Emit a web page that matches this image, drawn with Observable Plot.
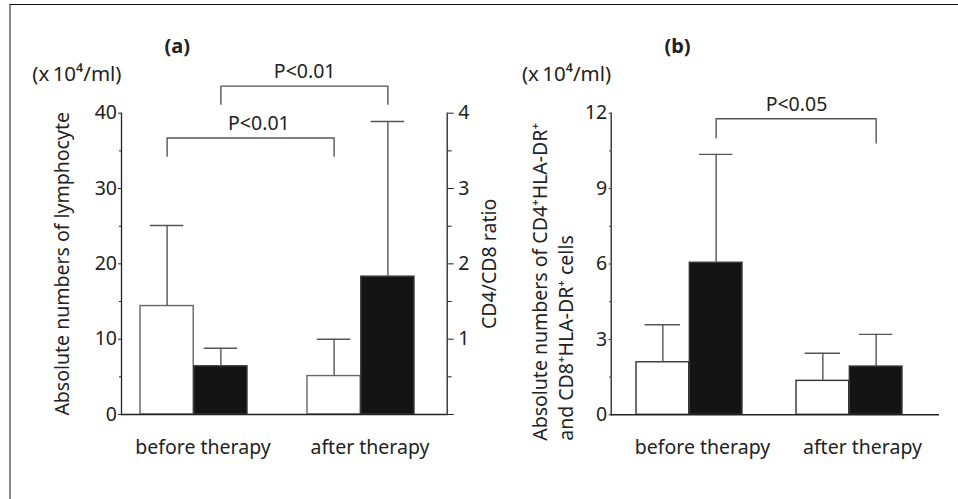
<!DOCTYPE html>
<html><head><meta charset="utf-8">
<script src="https://cdn.jsdelivr.net/npm/d3@7"></script>
<script src="https://cdn.jsdelivr.net/npm/@observablehq/plot@0.6"></script>
<style>
body{margin:0;background:#fff;}
#wrap{position:relative;width:958px;height:499px;overflow:hidden;background:#fff;}
#frame{position:absolute;left:9px;top:4px;right:-5px;bottom:-5px;border-top:1.5px solid #111;border-left:2px solid #8a8a8a;}
.panel{position:absolute;top:0;}
</style></head><body>
<div id="wrap"><div id="frame"></div><div id="pa" class="panel" style="left:0"></div><div id="pb" class="panel" style="left:479px"></div></div>
<script>
// ---- data ----
const groups = ["before therapy", "after therapy"];
// panel (a): lymphocytes (x10^4/ml, left axis) and CD4/CD8 ratio (right axis)
const lymphMean = [14.4, 5.1];
const lymphSD = [10.7, 4.9];
const ratioMean = [0.64, 1.83];
const ratioSD = [0.24, 2.06];
const ticksA = [0, 10, 20, 30, 40];
const minorA = [5, 15, 25, 35];
const ticksRatio = [1, 2, 3, 4];
const ratioFactor = 10; // right axis 0-4 shares the left axis 0-40 range
// panel (b): CD4+HLA-DR+ (white) and CD8+HLA-DR+ (black), x10^4/ml
const cd4Mean = [2.09, 1.35];
const cd4SD = [1.49, 1.10];
const cd8Mean = [6.05, 1.92];
const cd8SD = [4.31, 1.28];
const ticksB = [0, 3, 6, 9, 12];
const minorB = [1.5, 4.5, 7.5, 10.5];
// significance brackets (value units)
const bracketsA = [
  {from: "before therapy", to: "after therapy", side: "left", legFrom: 34.3, legTo: 34.3, top: 36.7, label: "P<0.01"},
  {from: "before therapy", to: "after therapy", side: "right", legFrom: 41.2, legTo: 41.2, top: 43.6, label: "P<0.01"}
];
const bracketsB = [
  {from: "before therapy", to: "after therapy", side: "right", legFrom: 11.02, legTo: 10.81, top: 11.78, label: "P<0.05"}
];
const unitLabel = "(x\u200910\u2074/ml)";
const labelA = "Absolute numbers of lymphocyte";
const labelRatio = "CD4/CD8 ratio";
const labelB = "Absolute numbers of CD4\u207AHLA-DR\u207A\nand CD8\u207AHLA-DR\u207A cells";

// ---- helpers ----
const W = 479, H = 499;
const FONT = "Noto Sans";
const AX = "#222", ERR = "#555";
const TICKFS = 19.5, LABFS = 19.5;
const noText = () => "";
function bandInfo(plotW, pi, po) { const step = plotW / (2 - pi + 2 * po); return {step, bw: step * (1 - pi)}; }
function rows(means, sds, f = 1) { return groups.map((g, i) => ({group: g, mean: means[i] * f, top: (means[i] + sds[i]) * f})); }
function seriesMarks(data, side, bw, cap, fill, stroke) {
  const half = bw / 2, q = bw / 4, left = side === "left";
  return [
    Plot.barY(data, {x: "group", y1: 0, y2: "mean", fill, stroke, strokeWidth: 1.4,
      insetLeft: left ? 0 : half, insetRight: left ? half : 0}),
    Plot.ruleX(data, {x: "group", y1: "mean", y2: "top", stroke: ERR, strokeWidth: 1.4, dx: left ? -q : q}),
    Plot.tickY(data, {x: "group", y: "top", stroke: ERR, strokeWidth: 1.4,
      insetLeft: left ? q - cap / 2 : 3 * q - cap / 2, insetRight: left ? 3 * q - cap / 2 : q - cap / 2})
  ];
}
function bracketMarks(list, bw, step) {
  return list.flatMap(b => {
    const q = (b.side === "left" ? -1 : 1) * bw / 4;
    const pts = [{g: b.from, y: b.legFrom}, {g: b.from, y: b.top}, {g: b.to, y: b.top}, {g: b.to, y: b.legTo}];
    return [
      Plot.line(pts, {x: "g", y: "y", stroke: ERR, strokeWidth: 1.4, dx: q}),
      Plot.text([b], {x: "from", y: "top", text: "label", dx: q + step / 2 + (b.side === "left" ? 8 : 0), dy: -8,
        lineAnchor: "bottom", fontSize: LABFS, fill: AX})
    ];
  });
}

// ---- panel (a) ----
{
  const mL = 121, mR = 32.3, mT = 112.7, mB = 85;
  const pi = 0.358, po = 0.151, al = 0.37;
  const {step, bw} = bandInfo(W - mL - mR, pi, po);
  const lymph = rows(lymphMean, lymphSD);
  const ratio = rows(ratioMean, ratioSD, ratioFactor);
  const plot = Plot.plot({
    width: W, height: H, marginLeft: mL, marginRight: mR, marginTop: mT, marginBottom: mB,
    style: {fontFamily: FONT, fontSize: "18px", color: AX, background: "transparent", overflow: "visible"},
    x: {type: "band", domain: groups, paddingInner: pi, paddingOuter: po, align: al, axis: null},
    y: {domain: [0, 40]},
    marks: [
      ...seriesMarks(lymph, "left", bw, 34, "white", "#666"),
      ...seriesMarks(ratio, "right", bw, 34, "#141414", "#3a3a3a"),
      Plot.frame({anchor: "left", stroke: AX, strokeWidth: 1.3}),
      Plot.frame({anchor: "right", stroke: AX, strokeWidth: 1.3}),
      Plot.ruleY([0], {stroke: AX, strokeWidth: 1.5}),
      Plot.axisY({anchor: "left", ticks: ticksA, tickSize: 3, tickPadding: 1.5, fontSize: TICKFS, label: null}),
      Plot.axisY({anchor: "left", ticks: minorA, tickSize: 2, tickFormat: noText, label: null}),
      Plot.axisY({anchor: "right", ticks: ticksRatio.map(v => v * ratioFactor), tickFormat: d => d / ratioFactor,
        tickSize: 6, tickPadding: 5, fontSize: TICKFS, label: null}),
      Plot.axisY({anchor: "right", ticks: [0], tickSize: 6, tickFormat: noText, label: null}),
      Plot.axisY({anchor: "right", ticks: minorA, tickSize: 4, tickFormat: noText, label: null}),
      ...bracketMarks(bracketsA, bw, step),
      Plot.text(groups, {x: d => d, frameAnchor: "bottom", lineAnchor: "bottom", dy: 39, dx: 9, fontSize: LABFS, fill: AX}),
      Plot.text([labelA], {frameAnchor: "left", textAnchor: "middle", rotate: -90, dx: -59, fontSize: LABFS, fill: AX}),
      Plot.text([labelRatio], {frameAnchor: "right", textAnchor: "middle", rotate: -90, dx: 43, fontSize: LABFS, fill: AX}),
      Plot.text([unitLabel], {frameAnchor: "top-left", textAnchor: "end", lineAnchor: "bottom", dy: -32.7, fontSize: 20.5, fill: AX}),
      Plot.text(["(a)"], {frameAnchor: "top-left", textAnchor: "middle", lineAnchor: "bottom", dx: 55.7, dy: -60, fontSize: 20, fontWeight: "bold", fill: AX})
    ]
  });
  document.getElementById("pa").appendChild(plot);
}

// ---- panel (b) ----
{
  const mL = 131.7, mR = 19, mT = 112.7, mB = 84.7;
  const pi = 0.3364, po = 0.19, al = 0.41;
  const {step, bw} = bandInfo(W - mL - mR, pi, po);
  const cd4 = rows(cd4Mean, cd4SD);
  const cd8 = rows(cd8Mean, cd8SD);
  const plot = Plot.plot({
    width: W, height: H, marginLeft: mL, marginRight: mR, marginTop: mT, marginBottom: mB,
    style: {fontFamily: FONT, fontSize: "18px", color: AX, background: "transparent", overflow: "visible"},
    x: {type: "band", domain: groups, paddingInner: pi, paddingOuter: po, align: al, axis: null},
    y: {domain: [0, 12]},
    marks: [
      ...seriesMarks(cd4, "left", bw, 36, "white", "#333"),
      ...seriesMarks(cd8, "right", bw, 34, "#141414", "#3a3a3a"),
      Plot.frame({anchor: "left", stroke: AX, strokeWidth: 1.3}),
      Plot.ruleY([0], {stroke: AX, strokeWidth: 1.5}),
      Plot.axisY({anchor: "left", ticks: ticksB, tickSize: 2, tickPadding: 2, fontSize: TICKFS, label: null}),
      Plot.axisY({anchor: "left", ticks: minorB, tickSize: 1.5, tickFormat: noText, label: null}),
      ...bracketMarks(bracketsB, bw, step),
      Plot.text(groups, {x: d => d, frameAnchor: "bottom", lineAnchor: "bottom", dy: 39, dx: 13, fontSize: LABFS, fill: AX}),
      Plot.text([labelB], {frameAnchor: "bottom-left", rotate: -90, textAnchor: "start", lineHeight: 1.3, dx: -38.5, dy: 26, fontSize: LABFS, fill: AX}),
      Plot.text([unitLabel], {frameAnchor: "top-left", textAnchor: "end", lineAnchor: "bottom", dy: -32.7, fontSize: 20.5, fill: AX}),
      Plot.text(["(b)"], {frameAnchor: "top-left", textAnchor: "middle", lineAnchor: "bottom", dx: 66.3, dy: -60, fontSize: 20, fontWeight: "bold", fill: AX})
    ]
  });
  document.getElementById("pb").appendChild(plot);
}
</script>
</body></html>
